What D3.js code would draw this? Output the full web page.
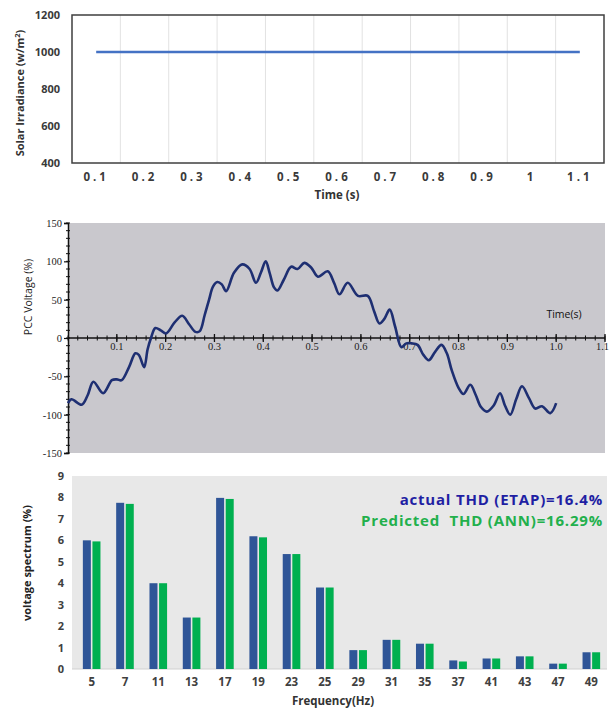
<!DOCTYPE html>
<html>
<head>
<meta charset="utf-8">
<script src="https://cdn.jsdelivr.net/npm/d3@7"></script>
<style>
  html, body { margin: 0; padding: 0; background: #fff; }
  svg { display: block; }
</style>
</head>
<body>
<svg id="chart" width="610" height="708"></svg>
<script>
// ---------- Panel 1: solar irradiance ----------
const timeLabels = ["0.1", "0.2", "0.3", "0.4", "0.5", "0.6", "0.7", "0.8", "0.9", "1", "1.1"];
const irradiance = [1000, 1000, 1000, 1000, 1000, 1000, 1000, 1000, 1000, 1000, 1000];
const irrTicks = [400, 600, 800, 1000, 1200];

// ---------- Panel 2: PCC voltage waveform ----------
const pccTime = [0.000, 0.007, 0.028, 0.040, 0.052, 0.072, 0.090, 0.100, 0.110, 0.125, 0.138, 0.145,
  0.156, 0.163, 0.170, 0.179, 0.190, 0.201, 0.218, 0.234, 0.248, 0.261, 0.270, 0.280, 0.289, 0.297,
  0.306, 0.315, 0.324, 0.340, 0.357, 0.372, 0.385, 0.395, 0.405, 0.413, 0.422, 0.429, 0.442, 0.457,
  0.470, 0.484, 0.498, 0.512, 0.532, 0.545, 0.556, 0.573, 0.594, 0.614, 0.627, 0.638, 0.648, 0.659,
  0.670, 0.683, 0.693, 0.704, 0.716, 0.728, 0.739, 0.752, 0.765, 0.776, 0.786, 0.800, 0.810, 0.824,
  0.835, 0.846, 0.858, 0.872, 0.885, 0.895, 0.906, 0.918, 0.930, 0.944, 0.957, 0.971, 0.988, 1.000];
const pccVoltage = [-85, -80, -87, -75, -57, -72, -55, -54, -55, -38, -20, -22,
  -38, -15, 0, 13, 10, 6, 20, 29, 18, 8, 9, 30, 50, 67,
  73, 70, 61, 85, 96, 90, 72, 85, 100, 85, 66, 62, 76, 93,
  90, 98, 92, 80, 87, 72, 57, 72, 55, 55, 35, 19, 25, 37,
  15, -12, -7, -7, -9, -22, -29, -18, -9, -20, -42, -65, -73, -61,
  -74, -90, -96, -88, -72, -88, -100, -80, -63, -78, -92, -89, -98, -85];
const pccYTicks = [-150, -100, -50, 0, 50, 100, 150];
const pccXTicks = [0.1, 0.2, 0.3, 0.4, 0.5, 0.6, 0.7, 0.8, 0.9, 1.0, 1.1];

// ---------- Panel 3: harmonic spectrum ----------
const harmonics = ["5", "7", "11", "13", "17", "19", "23", "25", "29", "31", "35", "37", "41", "43", "47", "49"];
const actualEtap = [6.0, 7.75, 4.0, 2.4, 7.98, 6.19, 5.36, 3.8, 0.88, 1.36, 1.18, 0.4, 0.49, 0.59, 0.25, 0.78];
const predictedAnn = [5.95, 7.7, 4.0, 2.4, 7.93, 6.14, 5.36, 3.8, 0.88, 1.36, 1.18, 0.35, 0.49, 0.59, 0.25, 0.78];
const spectrumTicks = [0, 1, 2, 3, 4, 5, 6, 7, 8, 9];
const thdLabels = ["actual THD (ETAP)=16.4%", "Predicted  THD (ANN)=16.29%"];

const svg = d3.select("#chart");
const labelFont = "'Open Sans', 'Noto Sans', sans-serif";
const plain = d => String(d);   // hyphen minus, no thousands separator

// ================= Panel 1 =================
{
  const left = 72, right = 604, top = 15, bottom = 163;
  const x = d3.scaleBand().domain(timeLabels).range([left, right]);
  const y = d3.scaleLinear().domain([400, 1200]).range([bottom, top]);
  const g = svg.append("g");

  // vertical gridlines between categories
  g.selectAll("line.grid").data(timeLabels.slice(1)).join("line")
    .attr("x1", d => x(d)).attr("x2", d => x(d))
    .attr("y1", top).attr("y2", bottom)
    .attr("stroke", "#e2e2e2").attr("stroke-width", 1);

  // frame
  g.append("rect").attr("x", left).attr("y", top)
    .attr("width", right - left).attr("height", bottom - top)
    .attr("fill", "none").attr("stroke", "#3f3f3f").attr("stroke-width", 1.5);

  const yAxis = g.append("g").attr("transform", `translate(${left},0)`)
    .call(d3.axisLeft(y).tickValues(irrTicks).tickFormat(plain).tickSize(0).tickPadding(12));
  yAxis.select(".domain").remove();
  yAxis.selectAll("text").attr("font-family", labelFont).attr("font-weight", "bold")
    .attr("font-size", 11).attr("fill", "#3a3a3a");

  const xAxis = g.append("g").attr("transform", `translate(0,${bottom})`)
    .call(d3.axisBottom(x).tickSize(0).tickPadding(10));
  xAxis.select(".domain").remove();
  xAxis.selectAll("text").attr("font-family", labelFont).attr("font-weight", "bold")
    .attr("font-size", 11.5).attr("fill", "#3a3a3a").attr("letter-spacing", "3px");

  const line = d3.line().x((d, i) => x(timeLabels[i]) + x.bandwidth() / 2).y(d => y(d));
  g.append("path").datum(irradiance).attr("d", line)
    .attr("fill", "none").attr("stroke", "#4472c4").attr("stroke-width", 2.5);

  g.append("text").attr("x", 337).attr("y", 199).attr("text-anchor", "middle")
    .attr("font-family", labelFont).attr("font-weight", "bold").attr("font-size", 11.5)
    .attr("fill", "#333").text("Time (s)");

  const yt = g.append("text").attr("transform", "translate(24,93) rotate(-90)")
    .attr("text-anchor", "middle").attr("font-family", labelFont).attr("font-weight", "bold")
    .attr("font-size", 11).attr("fill", "#333");
  yt.append("tspan").text("Solar Irradiance (w/m");
  yt.append("tspan").attr("dy", -4).attr("font-size", 7.5).text("2");
  yt.append("tspan").attr("dy", 4).text(")");
}

// ================= Panel 2 =================
{
  const left = 68, right = 605, top = 223, bottom = 453;
  const x = d3.scaleLinear().domain([0, 1.1]).range([left, right]);
  const y = d3.scaleLinear().domain([-150, 150]).range([bottom, top]);
  const g = svg.append("g");
  const serif = "'Liberation Serif', 'DejaVu Serif', serif";

  g.append("rect").attr("x", left).attr("y", top)
    .attr("width", right - left).attr("height", bottom - top).attr("fill", "#c9c8cd");

  // y axis with minor ticks
  const yMinor = d3.range(-150, 151, 10);
  g.selectAll("line.ymin").data(yMinor).join("line")
    .attr("x1", left - 2).attr("x2", left + 2)
    .attr("y1", d => y(d)).attr("y2", d => y(d))
    .attr("stroke", "#111").attr("stroke-width", 1);
  const yAxis = g.append("g").attr("transform", `translate(${left},0)`)
    .call(d3.axisLeft(y).tickValues(pccYTicks).tickFormat(plain).tickSize(4).tickPadding(2));
  yAxis.select(".domain").attr("stroke", "#111").attr("stroke-width", 1.5);
  yAxis.selectAll(".tick line").attr("stroke", "#111").attr("stroke-width", 1.2);
  yAxis.selectAll("text").attr("font-family", serif).attr("font-size", 10.5).attr("fill", "#222");

  // x axis along the zero line
  const y0 = y(0);
  g.append("line").attr("x1", left).attr("x2", right).attr("y1", y0).attr("y2", y0)
    .attr("stroke", "#111").attr("stroke-width", 1.5);
  const xMinor = d3.range(0, 1.1001, 0.02);
  g.selectAll("line.xmin").data(xMinor).join("line")
    .attr("x1", d => x(d)).attr("x2", d => x(d))
    .attr("y1", y0 - 2.5).attr("y2", y0 + 2.5)
    .attr("stroke", "#111").attr("stroke-width", 1);
  g.selectAll("line.xmaj").data(pccXTicks).join("line")
    .attr("x1", d => x(d)).attr("x2", d => x(d))
    .attr("y1", y0 - 4).attr("y2", y0 + 4)
    .attr("stroke", "#111").attr("stroke-width", 1.3);
  const lastTick = pccXTicks[pccXTicks.length - 1];
  g.selectAll("text.xl").data(pccXTicks).join("text")
    .attr("x", d => d === lastTick ? 609 : x(d)).attr("y", y0 + 12)
    .attr("text-anchor", d => d === lastTick ? "end" : "middle")
    .attr("font-family", serif).attr("font-size", 10.5).attr("fill", "#222")
    .text(d => d3.format(".1f")(d));

  const line = d3.line().x((d, i) => x(pccTime[i])).y(d => y(d)).curve(d3.curveCatmullRom.alpha(0.5));
  g.append("path").datum(pccVoltage).attr("d", line)
    .attr("fill", "none").attr("stroke", "#1e2f72").attr("stroke-width", 2.6)
    .attr("stroke-linejoin", "round");

  g.append("text").attr("x", 564).attr("y", 318).attr("text-anchor", "middle")
    .attr("font-family", labelFont).attr("font-size", 10.5).attr("fill", "#111").text("Time(s)");
  g.append("text").attr("transform", "translate(32,297) rotate(-90)").attr("text-anchor", "middle")
    .attr("font-family", labelFont).attr("font-size", 10.5).attr("fill", "#222").text("PCC Voltage (%)");
}

// ================= Panel 3 =================
{
  const left = 75, right = 608, top = 476, bottom = 669;
  const x = d3.scaleBand().domain(harmonics).range([left, right]);
  const y = d3.scaleLinear().domain([0, 9]).range([bottom, top]);
  const g = svg.append("g");

  g.append("rect").attr("x", 72).attr("y", top).attr("width", 535).attr("height", bottom - top)
    .attr("fill", "#e8e8e8");
  g.append("line").attr("x1", 72).attr("x2", 607).attr("y1", bottom).attr("y2", bottom)
    .attr("stroke", "#d0d0d0").attr("stroke-width", 1);

  const barW = 8, gap = 1.6;
  const pairs = harmonics.map((h, i) => ({ h, a: actualEtap[i], p: predictedAnn[i] }));
  g.selectAll("rect.a").data(pairs).join("rect")
    .attr("x", d => x(d.h) + x.bandwidth() / 2 - barW - gap / 2)
    .attr("y", d => y(d.a)).attr("width", barW).attr("height", d => bottom - y(d.a))
    .attr("fill", "#2f5597");
  g.selectAll("rect.p").data(pairs).join("rect")
    .attr("x", d => x(d.h) + x.bandwidth() / 2 + gap / 2)
    .attr("y", d => y(d.p)).attr("width", barW).attr("height", d => bottom - y(d.p))
    .attr("fill", "#00b050");

  const yAxis = g.append("g").attr("transform", "translate(64,0)")
    .call(d3.axisLeft(y).tickValues(spectrumTicks).tickSize(0).tickPadding(0));
  yAxis.select(".domain").remove();
  yAxis.selectAll("text").attr("font-family", labelFont).attr("font-weight", "bold")
    .attr("font-size", 11).attr("fill", "#404040");

  const xAxis = g.append("g").attr("transform", `translate(0,${bottom})`)
    .call(d3.axisBottom(x).tickSize(0).tickPadding(9));
  xAxis.select(".domain").remove();
  xAxis.selectAll("text").attr("font-family", labelFont).attr("font-weight", "bold")
    .attr("font-size", 11.5).attr("fill", "#404040");

  g.append("text").attr("x", 333).attr("y", 705).attr("text-anchor", "middle")
    .attr("font-family", labelFont).attr("font-weight", "bold").attr("font-size", 11.5)
    .attr("fill", "#333").text("Frequency(Hz)");
  g.append("text").attr("transform", "translate(31,563) rotate(-90)").attr("text-anchor", "middle")
    .attr("font-family", labelFont).attr("font-weight", "bold").attr("font-size", 11)
    .attr("fill", "#222").text("voltage spectrum (%)");

  g.append("text").attr("x", 603).attr("y", 505).attr("text-anchor", "end")
    .attr("font-family", labelFont).attr("font-weight", "bold").attr("font-size", 15)
    .attr("letter-spacing", "0.8px")
    .attr("fill", "#1f1fa3").text(thdLabels[0]);
  g.append("text").attr("x", 603).attr("y", 526).attr("text-anchor", "end")
    .attr("font-family", labelFont).attr("font-weight", "bold").attr("font-size", 15)
    .attr("letter-spacing", "0.8px")
    .attr("fill", "#22b04c").attr("xml:space", "preserve").style("white-space", "pre")
    .text(thdLabels[1]);
}
</script>
</body>
</html>
